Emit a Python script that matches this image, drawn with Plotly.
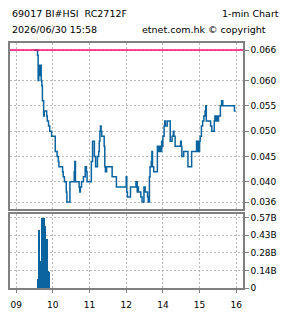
import plotly.graph_objects as go
from plotly.subplots import make_subplots

# ---- data ----
price_times = ["09:29","09:35","09:36","09:37","09:38","09:39","09:40","09:41","09:42","09:43",
               "09:45","09:46","09:50","09:51","09:53","09:55","09:58","10:04","10:07","10:09",
               "10:10","10:16","10:17","10:19","10:22","10:23","10:28","10:35","10:36","10:37",
               "10:43","10:44","10:45","10:47","10:50","10:53","10:55","10:56","11:03","11:05",
               "11:08","11:10","11:13","11:15","11:16","11:17","11:18","11:19","11:20","11:24",
               "11:25","11:26","11:28","11:37","11:44","13:00","13:01","13:02","13:07","13:16",
               "13:18","13:19","13:20","13:24","13:26","13:29","13:31","13:35","13:36","13:38",
               "13:39","13:41","13:42","13:43","13:45","13:51","13:53","13:55","13:56","13:58",
               "13:59","14:00","14:02","14:03","14:04","14:07","14:12","14:15","14:17","14:18",
               "14:20","14:29","14:30","14:31","14:34","14:41","14:47","14:55","14:56","14:57",
               "14:58","15:00","15:01","15:03","15:05","15:07","15:09","15:10","15:11","15:18",
               "15:20","15:24","15:25","15:27","15:28","15:30","15:31","15:34","15:36","15:38",
               "15:57","15:59"]
prices = [0.066,0.065,0.060,0.062,0.063,0.061,0.063,0.060,0.059,0.056,
          0.053,0.054,0.053,0.052,0.051,0.050,0.049,0.046,0.045,0.044,
          0.043,0.042,0.041,0.040,0.038,0.036,0.040,0.042,0.044,0.040,
          0.039,0.038,0.039,0.040,0.041,0.043,0.042,0.040,0.044,0.048,
          0.045,0.043,0.045,0.046,0.048,0.050,0.051,0.050,0.049,0.047,
          0.043,0.042,0.043,0.041,0.039,0.041,0.038,0.037,0.039,0.040,
          0.038,0.039,0.038,0.037,0.036,0.039,0.038,0.037,0.036,0.041,
          0.043,0.044,0.046,0.043,0.042,0.047,0.046,0.047,0.046,0.048,
          0.047,0.049,0.051,0.052,0.051,0.052,0.048,0.049,0.050,0.049,
          0.047,0.048,0.047,0.045,0.046,0.043,0.046,0.048,0.046,0.048,
          0.046,0.048,0.049,0.051,0.052,0.053,0.054,0.055,0.052,0.051,
          0.050,0.052,0.053,0.052,0.053,0.052,0.053,0.055,0.056,0.055,
          0.054,0.054]

vol_times = ["09:36","09:37","09:38","09:39","09:40","09:41","09:42","09:43","09:44","09:45",
             "09:46","09:47","09:48","09:49","09:50","09:51","09:52","09:53","09:54"]
volumes_b = [0.07,0.47,0.02,0.03,0.12,0.22,0.29,0.57,0.57,0.57,
             0.54,0.50,0.30,0.05,0.40,0.14,0.14,0.14,0.13]

prev_close = 0.066

hour_ticks = ["09:00","10:00","11:00","12:00","14:00","15:00","16:00"]
hour_labels = ["09","10","11","12","14","15","16"]

price_ticks = [0.036,0.040,0.045,0.050,0.055,0.060,0.066]
price_labels = ["0.036","0.040","0.045","0.050","0.055","0.060","0.066"]
vol_ticks_b = [0,0.1425,0.285,0.4275,0.57]
vol_labels = ["0","0.14B","0.28B","0.43B","0.57B"]


def tmin(s):
    h, m = map(int, s.split(":"))
    t = (h - 9) * 60 + m
    if h >= 13:
        t -= 60  # lunch break removed
    return t


px = [tmin(s) for s in price_times]
vx = [tmin(s) for s in vol_times]
vy = [v * 1e9 for v in volumes_b]
hx = [tmin(s) for s in hour_ticks]

BLUE = "#0a64a0"
GRID = "#b8b8b8"
FRAME = "#808080"
FONT = "DejaVu Sans"

fig = make_subplots(rows=2, cols=1, shared_xaxes=True, vertical_spacing=0.02)

fig.add_trace(go.Scatter(x=px, y=prices, mode="lines", line=dict(color=BLUE, width=1.5, shape="hv"),
                         hoverinfo="skip"), row=1, col=1)
fig.add_trace(go.Bar(x=vx, y=vy, width=1.5, marker=dict(color=BLUE, line=dict(width=0))), row=2, col=1)
fig.add_hline(y=prev_close, line=dict(color="#ff0a78", width=1.5), row=1, col=1)

xcommon = dict(range=[-10, 371], tickvals=hx, ticktext=hour_labels, showgrid=True, gridcolor=GRID,
               griddash="2px,2px", gridwidth=1, showline=True, mirror=True, linecolor=FRAME,
               linewidth=1.5, zeroline=False, ticks="outside", ticklen=3, tickcolor=FRAME,
               ticklabelstandoff=4,
               tickfont=dict(family=FONT, size=9, color="#000"))
fig.update_xaxes(**xcommon)
fig.update_xaxes(showticklabels=False, ticks="", row=1, col=1)

ycommon = dict(side="right", showgrid=True, gridcolor=GRID, griddash="2px,2px", gridwidth=1,
               showline=True, mirror=True, linecolor=FRAME, linewidth=1.5, zeroline=False,
               ticks="outside", ticklen=4, tickcolor=FRAME,
               tickfont=dict(family=FONT, size=9, color="#000"))
fig.update_yaxes(**ycommon)
fig.update_yaxes(range=[0.0346, 0.0674], tickvals=price_ticks, ticktext=price_labels,
                 domain=[0.3216, 1.0], row=1, col=1)
fig.update_yaxes(range=[0, 0.60e9], tickvals=[v * 1e9 for v in vol_ticks_b], ticktext=vol_labels,
                 domain=[0.0, 0.302], row=2, col=1)


def pxx(p):
    return (p - 8) / 235.0


def pxy(p):
    return (298 - p) / 255.0


ann = dict(xref="paper", yref="paper", showarrow=False, yanchor="middle",
           font=dict(family=FONT, size=9.5, color="#000"))
fig.add_annotation(text="69017 BI#HSI\u00a0 RC2712F", x=pxx(8), y=pxy(12), xanchor="left", **ann)
fig.add_annotation(text="1-min Chart", x=pxx(281), y=pxy(12), xanchor="right", **ann)
fig.add_annotation(text="2026/06/30 15:58", x=pxx(8), y=pxy(29), xanchor="left", **ann)
fig.add_annotation(text="etnet.com.hk © copyright", x=pxx(139), y=pxy(29), xanchor="left", **ann)

fig.update_layout(width=285, height=318, margin=dict(l=8, r=42, t=43, b=20),
                  paper_bgcolor="white", plot_bgcolor="white", showlegend=False,
                  bargap=0, hovermode=False)

fig.write_html("out.html")
